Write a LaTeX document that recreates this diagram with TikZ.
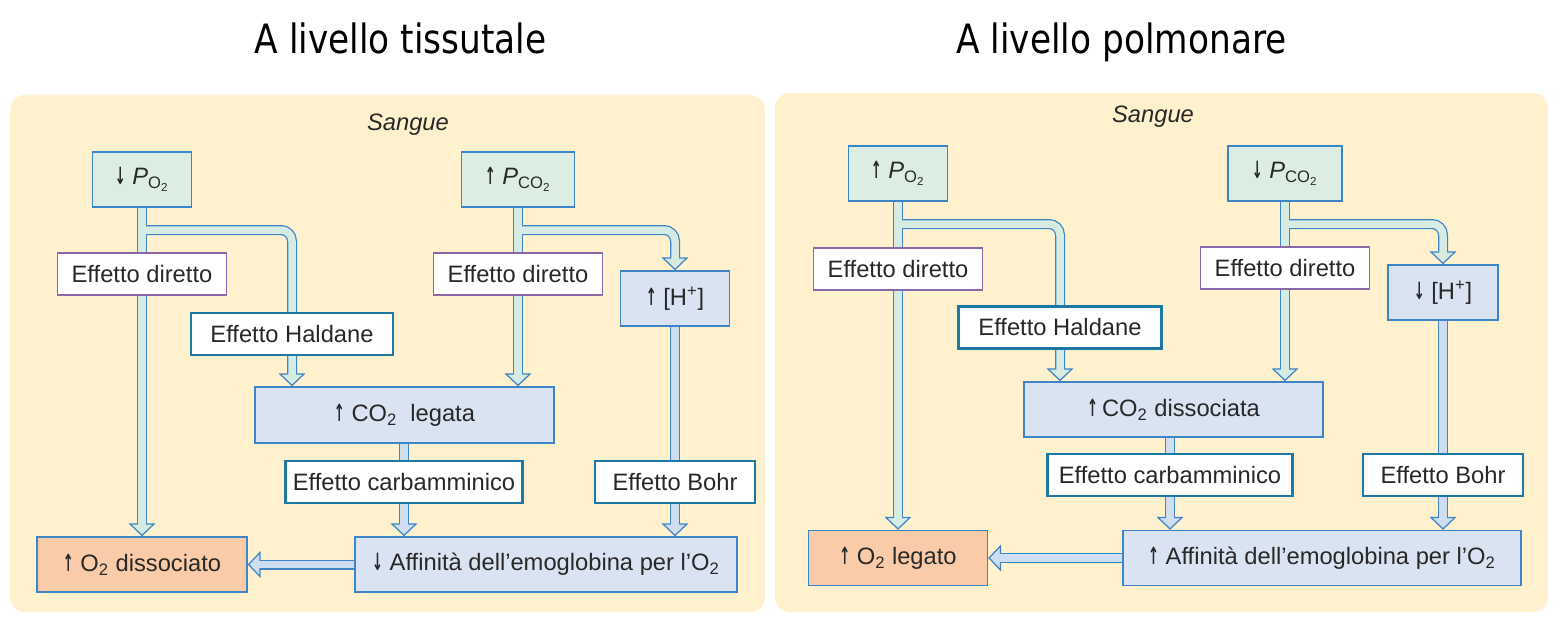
\documentclass[tikz,border=0pt]{standalone}
\usepackage{fontspec}
\setmainfont{Liberation Sans}
\newfontfamily\titlefont[FakeStretch=0.85]{DejaVu Sans}
\newfontfamily\arrowfont[FakeStretch=0.55]{DejaVu Sans}
\usepackage{xcolor}
\usepackage{tikz}
\usetikzlibrary{arrows.meta, positioning, calc}

\definecolor{panelbg}{RGB}{255,241,205}
\definecolor{lineblue}{RGB}{61,133,198}
\definecolor{lineteal}{RGB}{29,120,166}
\definecolor{linepurple}{RGB}{140,103,170}
\definecolor{fillgreen}{RGB}{220,238,228}
\definecolor{fillblue}{RGB}{218,227,242}
\definecolor{fillsalmon}{RGB}{249,203,168}
\definecolor{tubeg}{RGB}{214,236,227}
\definecolor{tubeb}{RGB}{206,221,240}
\definecolor{txtgray}{RGB}{40,40,40}

\pgfdeclarelayer{panel}
\pgfdeclarelayer{tubeout}
\pgfdeclarelayer{tubein}
\pgfsetlayers{panel,tubeout,tubein,main}

\newcommand{\su}{{\arrowfont\bfseries ↑}}
\newcommand{\giu}{{\arrowfont\bfseries ↓}}
\newcommand{\tube}[2][tubeg]{%
  \begin{pgfonlayer}{tubeout}
    \draw[tubeline, -{Triangle[length=0.26cm 0, width=0.54cm 0, line width=0.7pt 0, fill=#1]}] #2;
  \end{pgfonlayer}
  \begin{pgfonlayer}{tubein}
    \draw[tubefill=#1] #2;
  \end{pgfonlayer}}

\begin{document}
\begin{tikzpicture}[
    x=0.02cm, y=-0.02cm,
    box/.style={rectangle, inner sep=0pt, text=txtgray, font=\fontsize{13.5}{16}\selectfont},
    pbox/.style={box, draw=lineblue, line width=0.8pt, fill=fillgreen, minimum height=1.1cm},
    resbox/.style={box, draw=lineblue, line width=0.8pt, fill=fillblue, minimum height=1.1cm},
    o2box/.style={box, draw=lineblue, line width=0.8pt, fill=fillsalmon, minimum height=1.1cm},
    dirbox/.style={box, draw=linepurple, line width=1.1pt, fill=white, minimum width=3.38cm, minimum height=0.84cm},
    effbox/.style={box, draw=lineteal, line width=1.3pt, fill=white, minimum height=0.84cm},
    sang/.style={text=txtgray, font=\fontsize{13.5}{16}\selectfont\itshape},
    title/.style={font=\titlefont\fontsize{23}{28}\selectfont, anchor=base},
    tubeline/.style={draw=lineblue, line width=0.2cm, rounded corners=0.22cm},
    tubefill/.style={draw=#1, line width=0.15cm, rounded corners=0.22cm, shorten >=0.22cm}
]
\useasboundingbox (0,0) rectangle (1562,620);

\begin{pgfonlayer}{panel}
\fill[panelbg, rounded corners=0.3cm] (10,95) rectangle (765,612);
\fill[panelbg, rounded corners=0.3cm] (775,93) rectangle (1548,612);
\end{pgfonlayer}

\node[title] (tl) at (400.5,53) {A livello tissutale};
\node[title] (tr) at (1121.5,53) {A livello polmonare};

\node[sang] (ls) at (408,125) {Sangue};
\node[pbox, minimum width=1.98cm] (lpo2) at (142,179.5) {\giu\ \textit{P}\textsubscript{O\textsubscript{2}}};
\node[pbox, minimum width=2.26cm] (lpco2) at (518,179.5) {\su\ \textit{P}\textsubscript{CO\textsubscript{2}}};
\node[dirbox] (ld1) at (142,274) {Effetto diretto};
\node[dirbox] (ld2) at (518,274) {Effetto diretto};
\node[resbox, minimum width=2.18cm] (lh) at (675,298.5) {\su\ [H\textsuperscript{+}]};
\node[effbox, minimum width=4.04cm] (lhal) at (292,334) {Effetto Haldane};
\node[resbox, minimum width=5.98cm, minimum height=1.12cm] (lco2) at (404.5,415) {\su\ CO\textsubscript{2}\ \ legata};
\node[effbox, minimum width=4.74cm] (lcarb) at (404,482) {Effetto carbamminico};
\node[effbox, minimum width=3.2cm] (lbohr) at (675,482) {Effetto Bohr};
\node[resbox, minimum width=7.64cm] (laff) at (546,564.5) {\giu\ Affinità dell’emoglobina per l’O\textsubscript{2}};
\node[o2box, minimum width=4.2cm] (lo2) at (142,564.5) {\su\ O\textsubscript{2} dissociato};

\coordinate (lj1) at (lpo2.south |- 0,230);
\coordinate (lj2) at (lpco2.south |- 0,230);
\tube{(lpo2.south) -- (lo2.north)}
\tube{(lj1) -| (lhal |- lco2.north)}
\tube{(lpco2.south) -- (lpco2.south |- lco2.north)}
\tube{(lj2) -| (lh.north)}
\tube[tubeb]{(lh.south) -- (lh |- laff.north)}
\tube[tubeb]{(lcarb |- lco2.south) -- (lcarb |- laff.north)}
\tube[tubeb]{(laff.west) -- (lo2.east)}

\node[sang] (rs) at (1153,117) {Sangue};
\node[pbox, minimum width=1.98cm] (rpo2) at (898,173.5) {\su\ \textit{P}\textsubscript{O\textsubscript{2}}};
\node[pbox, minimum width=2.28cm] (rpco2) at (1285,173.5) {\giu\ \textit{P}\textsubscript{CO\textsubscript{2}}};
\node[dirbox] (rd1) at (898,269) {Effetto diretto};
\node[dirbox] (rd2) at (1285,268) {Effetto diretto};
\node[resbox, minimum width=2.2cm] (rh) at (1443,292.5) {\giu\ [H\textsuperscript{+}]};
\node[effbox, minimum width=4.06cm] (rhal) at (1060,327.5) {Effetto Haldane};
\node[resbox, minimum width=5.98cm] (rco2) at (1173.5,409.5) {\su\,CO\textsubscript{2} dissociata};
\node[effbox, minimum width=4.9cm] (rcarb) at (1170,475) {Effetto carbamminico};
\node[effbox, minimum width=3.2cm] (rbohr) at (1443,475) {Effetto Bohr};
\node[resbox, minimum width=7.96cm] (raff) at (1322,558) {\su\ Affinità dell’emoglobina per l’O\textsubscript{2}};
\node[o2box, minimum width=3.58cm] (ro2) at (898,558) {\su\ O\textsubscript{2} legato};

\coordinate (rj1) at (rpo2.south |- 0,224);
\coordinate (rj2) at (rpco2.south |- 0,224);
\tube{(rpo2.south) -- (ro2.north)}
\tube{(rj1) -| (rhal |- rco2.north)}
\tube{(rpco2.south) -- (rpco2.south |- rco2.north)}
\tube{(rj2) -| (rh.north)}
\tube[tubeb]{(rh.south) -- (rh |- raff.north)}
\tube[tubeb]{(rcarb |- rco2.south) -- (rcarb |- raff.north)}
\tube[tubeb]{(raff.west) -- (ro2.east)}

\end{tikzpicture}
\end{document}
